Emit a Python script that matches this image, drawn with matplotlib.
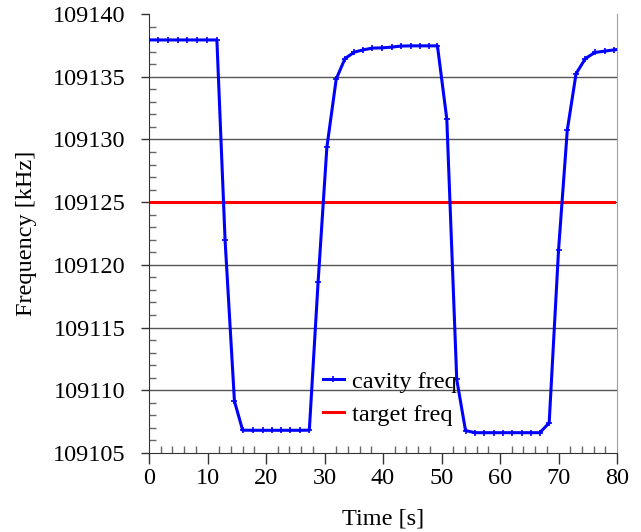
import numpy as np
import matplotlib
matplotlib.use('Agg')
import matplotlib.pyplot as plt
from matplotlib.ticker import MultipleLocator, FormatStrFormatter

plt.rcParams['font.family'] = ['Liberation Serif', 'DejaVu Serif']

# 数据（从图上读出来的）
time_s = [0.0, 1.6, 3.2, 4.9, 6.5, 8.2, 9.9, 11.6,
          13.0, 14.6, 16.0, 17.8, 19.4, 21.0, 22.6, 24.1, 25.8, 27.4,
          28.9, 30.4, 32.0, 33.5, 35.1, 36.6, 38.2, 39.8, 41.5, 43.0,
          44.7, 46.3, 47.8, 49.3,
          50.9, 52.6, 54.1, 55.7, 57.3, 58.9, 60.5, 62.1, 63.7, 65.3, 66.8,
          68.4, 70.0, 71.5, 73.0, 74.6, 76.2, 77.9, 79.5, 81.1]
cavity_freq = [109137.93, 109137.93, 109137.93, 109137.93, 109137.93, 109137.93, 109137.93, 109137.93,
               109121.96, 109109.13, 109106.82, 109106.81, 109106.81, 109106.81, 109106.81, 109106.81,
               109106.81, 109106.82,
               109118.63, 109129.37, 109134.82, 109136.45, 109136.96, 109137.14, 109137.28, 109137.30,
               109137.36, 109137.44, 109137.46, 109137.46, 109137.46, 109137.46,
               109131.63, 109110.86, 109106.79, 109106.62, 109106.62, 109106.62, 109106.62, 109106.62,
               109106.62, 109106.62, 109106.62,
               109107.40, 109121.17, 109130.75, 109135.25, 109136.45, 109136.93, 109137.04, 109137.14,
               109137.22]
target_time = [0.0, 79.5]
target_freq = [109125, 109125]

fig = plt.figure(figsize=(6.41, 5.32), dpi=100)
ax = fig.add_axes([0.2325, 0.1485, 0.9626 - 0.2325, 0.9737 - 0.1485])

# 网格线
for v in range(109110, 109140, 5):
    ax.axhline(v, color='#555555', lw=1.0, zorder=1)

ax.plot(time_s, cavity_freq, color='#0000ff', lw=2.2, marker='+', ms=5, mew=1.2,
        label='cavity freq', zorder=3)
ax.plot(target_time, target_freq, color='#ff0000', lw=2.2, label='target freq', zorder=2)

ax.set_xlim(0, 80)
ax.set_ylim(109105, 109140)
ax.xaxis.set_major_locator(MultipleLocator(10))
ax.xaxis.set_minor_locator(MultipleLocator(2))
ax.yaxis.set_major_locator(MultipleLocator(5))
ax.yaxis.set_minor_locator(MultipleLocator(1))
ax.yaxis.set_major_formatter(FormatStrFormatter('%d'))

ax.tick_params(which='major', direction='out', length=6, width=1, labelsize=17.5, color='#333333')
ax.tick_params(axis='y', which='major', pad=11)
ax.tick_params(axis='x', which='major', length=8, pad=3)
ax.tick_params(which='minor', direction='in', length=5, width=1, color='#666666')

ax.spines['top'].set_visible(False)
ax.spines['right'].set_color('#a0a0a0')
ax.spines['left'].set_color('#333333')
ax.spines['bottom'].set_color('#333333')

ax.set_xlabel('Time [s]', fontsize=17.5, labelpad=14)
ax.set_ylabel('Frequency [kHz]', fontsize=17.5, labelpad=11)

ax.legend(loc='lower left', bbox_to_anchor=(0.35, 0.04), frameon=False, fontsize=17.5,
          handlelength=0.9, handletextpad=0.3, labelspacing=0.45, borderaxespad=0)

plt.savefig('out.png', dpi=100)
